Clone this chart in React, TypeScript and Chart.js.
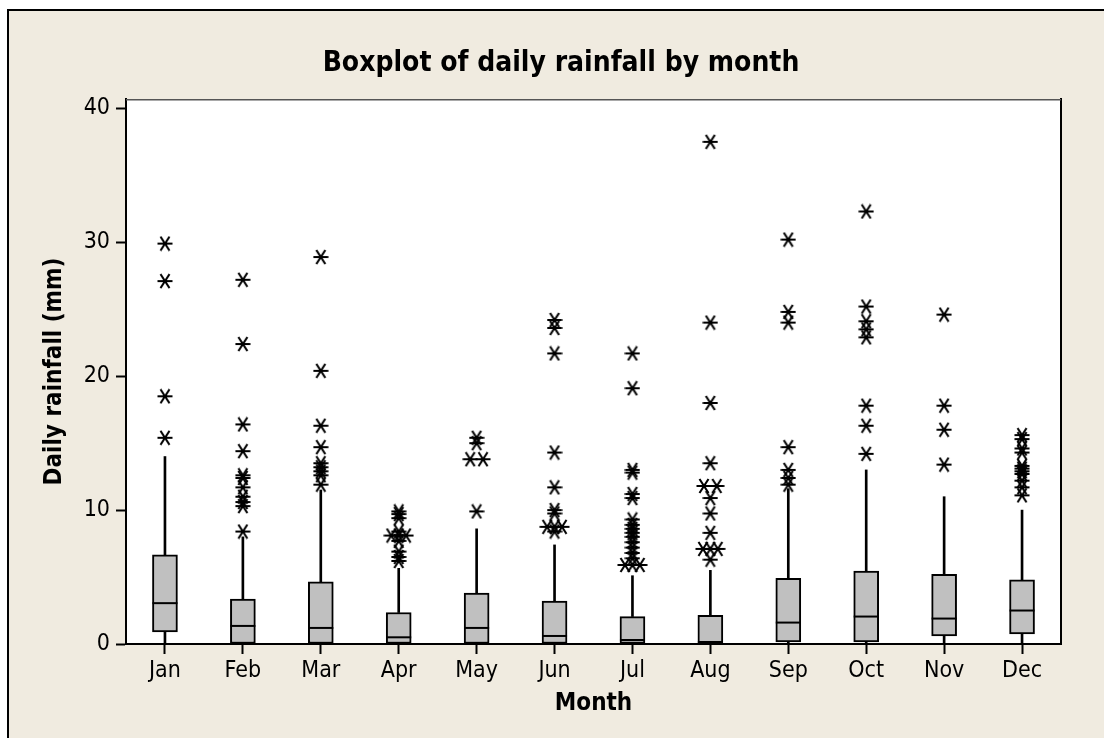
import React, { useEffect, useRef } from 'react';
import { Chart, registerables } from 'chart.js';

Chart.register(...registerables);

const months = ['Jan', 'Feb', 'Mar', 'Apr', 'May', 'Jun', 'Jul', 'Aug', 'Sep', 'Oct', 'Nov', 'Dec'];
const q1 = [0.9, 0, 0, 0, 0, 0, 0, 0, 0.15, 0.15, 0.6, 0.75];
const medians = [3.05, 1.35, 1.2, 0.5, 1.2, 0.6, 0.3, 0.15, 1.6, 2.05, 1.9, 2.5];
const q3 = [6.65, 3.35, 4.65, 2.35, 3.8, 3.2, 2.05, 2.15, 4.9, 5.45, 5.2, 4.8];
const whiskerLow = [0, 0, 0, 0, 0, 0, 0, 0, 0, 0, 0, 0];
const whiskerHigh = [14.0, 8.0, 11.5, 5.65, 8.6, 7.4, 5.1, 5.5, 11.6, 13.0, 11.0, 10.0];

const janOutliers = [15.4, 18.5, 27.1, 29.9];
const febOutliers = [8.4, 10.3, 10.6, 11.0, 11.7, 12.4, 12.6, 14.4, 16.4, 22.4, 27.2];
const marOutliers = [11.9, 12.6, 12.9, 13.2, 13.5, 14.7, 16.3, 20.4, 28.9];
const aprOutliers = [6.2, 6.5, 6.9, 7.7, 8.1, 8.1, 8.1, 8.4, 9.4, 9.7, 9.9];
const mayOutliers = [9.9, 13.8, 13.8, 15.0, 15.4];
const junOutliers = [8.4, 8.75, 8.75, 8.75, 9.75, 10.0, 11.7, 14.3, 21.7, 23.6, 24.2];
const julOutliers = [5.9, 5.9, 5.9, 6.4, 6.8, 7.2, 7.6, 8.0, 8.3, 8.6, 8.9, 9.3, 10.9, 11.2, 12.8, 13.0, 19.1, 21.7];
const augOutliers = [6.3, 7.1, 7.1, 7.1, 8.3, 9.75, 10.9, 11.8, 11.8, 13.5, 18.0, 24.0, 37.5];
const sepOutliers = [11.9, 12.4, 13.0, 14.7, 24.0, 24.8, 30.2];
const octOutliers = [14.2, 16.3, 17.8, 22.9, 23.5, 24.1, 25.2, 32.3];
const novOutliers = [13.4, 16.0, 17.8, 24.6];
const decOutliers = [11.1, 11.7, 12.2, 12.7, 12.9, 13.1, 13.3, 14.3, 14.6, 15.3, 15.6];

const outliers = [
  janOutliers, febOutliers, marOutliers, aprOutliers, mayOutliers, junOutliers,
  julOutliers, augOutliers, sepOutliers, octOutliers, novOutliers, decOutliers,
];

const yTicks = [0, 10, 20, 30, 40];
const yMin = 0;
const yMax = 40.7;

const FONT = "'DejaVu Sans Condensed', 'DejaVu Sans', sans-serif";

function outlierPoints() {
  const pts: { x: number; y: number }[] = [];
  outliers.forEach((vals, i) => {
    const groups = new Map<number, number>();
    vals.forEach((v) => groups.set(v, (groups.get(v) || 0) + 1));
    groups.forEach((n, v) => {
      const step = n === 2 ? 0.165 : 0.095;
      for (let k = 0; k < n; k++) {
        pts.push({ x: i + (k - (n - 1) / 2) * step, y: v });
      }
    });
  });
  return pts;
}

function makeAsterisk() {
  const c = document.createElement('canvas');
  c.width = 16;
  c.height = 16;
  const g = c.getContext('2d')!;
  g.strokeStyle = '#000';
  g.lineWidth = 2.1;
  g.beginPath();
  g.moveTo(0.5, 8);
  g.lineTo(15.5, 8);
  g.moveTo(3.5, 1);
  g.lineTo(12.5, 15);
  g.moveTo(12.5, 1);
  g.lineTo(3.5, 15);
  g.stroke();
  return c;
}

const plotFrame = {
  id: 'plotFrame',
  beforeDatasetsDraw(chart: any) {
    const { ctx, chartArea: a } = chart;
    ctx.save();
    ctx.strokeStyle = '#555';
    ctx.lineWidth = 1.5;
    ctx.beginPath();
    ctx.moveTo(a.left, a.top + 0.75);
    ctx.lineTo(a.right, a.top + 0.75);
    ctx.stroke();
    ctx.restore();
  },
  beforeDraw(chart: any) {
    const { ctx, chartArea: a } = chart;
    ctx.save();
    ctx.fillStyle = '#ffffff';
    ctx.fillRect(a.left, a.top, a.right - a.left, a.bottom - a.top);
    ctx.restore();
  },
};

export default function App() {
  const ref = useRef<HTMLCanvasElement>(null);

  useEffect(() => {
    document.body.style.margin = '0';
    const canvas = ref.current!;
    const asterisk = makeAsterisk();
    const chart = new Chart(canvas, {
      type: 'scatter',
      data: {
        datasets: [
          {
            type: 'scatter',
            label: 'Outliers',
            data: outlierPoints(),
            pointStyle: asterisk as any,
            pointRadius: 7,
          },
          {
            type: 'scatter',
            label: 'Median',
            data: months.map((_, i) => ({ x: i, y: medians[i] })),
            pointStyle: 'line',
            pointRadius: 12.5,
            pointBorderWidth: 2,
            pointBorderColor: '#000',
            borderColor: '#000',
          },
          {
            type: 'bar',
            label: 'IQR box',
            data: months.map((_, i) => ({ x: i, y: [q1[i], q3[i]] })) as any,
            backgroundColor: '#c0c0c0',
            borderColor: '#000',
            borderWidth: 2,
            borderSkipped: false,
            barThickness: 25,
            grouped: false,
          },
          {
            type: 'bar',
            label: 'Upper whisker',
            data: months.map((_, i) => ({ x: i, y: [q3[i], whiskerHigh[i]] })) as any,
            backgroundColor: '#000',
            borderWidth: 0,
            barThickness: 2,
            grouped: false,
          },
          {
            type: 'bar',
            label: 'Lower whisker',
            data: months.map((_, i) => ({ x: i, y: [whiskerLow[i], q1[i]] })) as any,
            backgroundColor: '#000',
            borderWidth: 0,
            barThickness: 2,
            grouped: false,
          },
        ] as any,
      },
      options: {
        animation: false,
        responsive: false,
        events: [],
        layout: { padding: { left: 18, right: 0, top: 0, bottom: 0 } },
        font: { family: FONT },
        plugins: {
          legend: { display: false },
          tooltip: { enabled: false },
          title: {
            display: true,
            text: 'Boxplot of daily rainfall by month',
            color: '#000',
            font: { family: FONT, size: 28, weight: 'bold' },
            padding: { top: 46.5, bottom: 18.9 },
          },
        },
        scales: {
          x: {
            type: 'linear',
            min: -0.5,
            max: 11.5,
            offset: false,
            afterBuildTicks: (s: any) => {
              s.ticks = months.map((_, i) => ({ value: i }));
            },
            afterFit: (s: any) => {
              s.height = 94;
            },
            grid: {
              display: true,
              offset: false,
              drawOnChartArea: false,
              drawTicks: true,
              tickLength: 10,
              tickColor: '#000',
              tickWidth: 2,
            },
            border: { display: true, color: '#000', width: 2 },
            ticks: {
              autoSkip: false,
              maxRotation: 0,
              color: '#000',
              padding: 3,
              font: { family: FONT, size: 23 },
              callback: (v: any) => months[Math.round(v)] ?? '',
            },
            title: {
              display: true,
              text: 'Month',
              color: '#000',
              font: { family: FONT, size: 24, weight: 'bold' },
              padding: { top: 0, bottom: 20 },
            },
          },
          y: {
            type: 'linear',
            min: yMin,
            max: yMax,
            afterBuildTicks: (s: any) => {
              s.ticks = yTicks.map((v) => ({ value: v }));
            },
            afterFit: (s: any) => {
              s.width = 108;
            },
            grid: {
              display: true,
              drawOnChartArea: false,
              drawTicks: true,
              tickLength: 10,
              tickColor: '#000',
              tickWidth: 2,
            },
            border: { display: true, color: '#000', width: 2 },
            ticks: {
              color: '#000',
              padding: 6,
              font: { family: FONT, size: 23 },
            },
            title: {
              display: true,
              text: 'Daily rainfall (mm)',
              color: '#000',
              font: { family: FONT, size: 24, weight: 'bold' },
              padding: { top: 22, bottom: 0 },
            },
          },
          y2: {
            type: 'linear',
            position: 'right',
            display: true,
            min: yMin,
            max: yMax,
            grid: { display: false, drawTicks: false },
            ticks: { display: false },
            border: { display: true, color: '#000', width: 2 },
            afterFit: (s: any) => {
              s.width = 43;
            },
          },
        },
      } as any,
      plugins: [plotFrame],
    });
    return () => chart.destroy();
  }, []);

  return (
    <div style={{ position: 'fixed', left: 0, top: 0, width: 1104, height: 738, background: '#ffffff', overflow: 'hidden' }}>
      <div
        style={{
          position: 'absolute',
          left: 7,
          top: 9,
          right: 0,
          bottom: 0,
          borderLeft: '2px solid #000',
          borderTop: '2px solid #000',
          background: '#f0ebe0',
        }}
      />
      <canvas ref={ref} width={1104} height={738} style={{ position: 'absolute', left: 0, top: 0, width: 1104, height: 738 }} />
    </div>
  );
}
